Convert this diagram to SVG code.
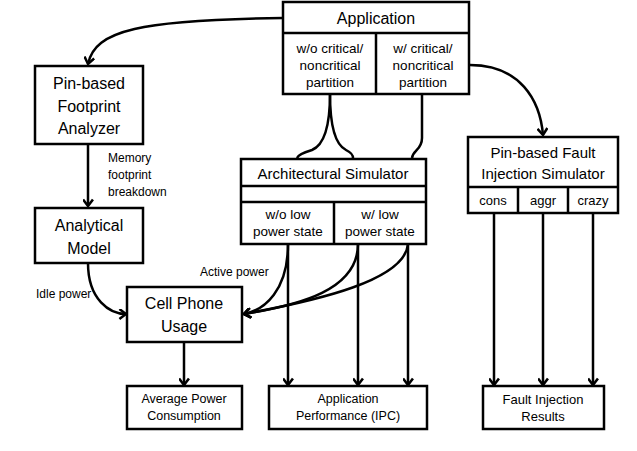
<svg xmlns="http://www.w3.org/2000/svg" width="637" height="451" viewBox="0 0 637 451">
<style>
.b{fill:#fff;stroke:#000;stroke-width:2.5}
.l{fill:none;stroke:#000;stroke-width:2.5}
text{font-family:"Liberation Sans",Arial,sans-serif;fill:#000;text-anchor:middle;dominant-baseline:central}
.t16{font-size:16px}
.t15{font-size:15px}
.t14{font-size:13.5px}
.t13{font-size:13px}
.t12{font-size:12.5px}
.lab{font-size:12px;text-anchor:start}
</style>
<defs>
<marker id="a" viewBox="0 0 10 10" refX="8" refY="5" markerWidth="11" markerHeight="11" markerUnits="userSpaceOnUse" orient="auto">
<path d="M2,0.5 L8,5 L2,9.5" fill="none" stroke="#000" stroke-width="2.3"/>
</marker>
</defs>
<rect width="637" height="451" fill="#fff"/>
<g id="connectors">
<path class="l" d="M283,18 C140,20 95,30 88,64" marker-end="url(#a)"/>
<path class="l" d="M88,144 L88,206" marker-end="url(#a)"/>
<path class="l" d="M330,94 C330,128 324,145 312,150 C302,153 298,155 297,158"/>
<path class="l" d="M330,94 C330,128 336,145 346,150 C352,153 353,155 353,158"/>
<path class="l" d="M422,94 L422,138 C422,150 413,150 412,158"/>
<path class="l" d="M470,65 C520,65 540,100 543,135" marker-end="url(#a)"/>
<path class="l" d="M287,187 L287,201" marker-end="url(#a)"/>
<path class="l" d="M358,187 L358,201" marker-end="url(#a)"/>
<path class="l" d="M409,187 L409,201" marker-end="url(#a)"/>
<path class="l" d="M88,263 C88,300 110,314 126,314" marker-end="url(#a)"/>
<path class="l" d="M288,244 C288,290 265,310 244,314" marker-end="url(#a)"/>
<path class="l" d="M358,244 C358,290 300,305 244,314" marker-end="url(#a)"/>
<path class="l" d="M408,244 C405,280 320,300 244,314" marker-end="url(#a)"/>
<path class="l" d="M184,342 L184,385" marker-end="url(#a)"/>
<path class="l" d="M288,244 L288,385" marker-end="url(#a)"/>
<path class="l" d="M358,244 L358,385" marker-end="url(#a)"/>
<path class="l" d="M408,244 L408,385" marker-end="url(#a)"/>
<path class="l" d="M494,213 L494,385" marker-end="url(#a)"/>
<path class="l" d="M543,213 L543,385" marker-end="url(#a)"/>
<path class="l" d="M593,213 L593,385" marker-end="url(#a)"/>
</g>
<g id="labels">
<text class="lab" x="108" y="158">Memory</text>
<text class="lab" x="108" y="175">footprint</text>
<text class="lab" x="108" y="192">breakdown</text>
<text class="lab" x="200" y="272">Active power</text>
<text class="lab" x="36" y="294">Idle power</text>
</g>
<g id="application">
<rect class="b" x="283" y="2" width="186" height="92"/>
<line class="l" x1="283" y1="33" x2="469" y2="33"/>
<line class="l" x1="376" y1="33" x2="376" y2="94"/>
<text class="t16" x="376" y="18">Application</text>
<text class="t14" x="330" y="48">w/o critical/</text>
<text class="t14" x="330" y="65">noncritical</text>
<text class="t14" x="330" y="82">partition</text>
<text class="t14" x="423" y="48">w/ critical/</text>
<text class="t14" x="423" y="65">noncritical</text>
<text class="t14" x="423" y="82">partition</text>
</g>
<g id="footprint">
<rect class="b" x="35" y="66" width="108" height="78"/>
<text class="t16" x="89" y="83">Pin-based</text>
<text class="t16" x="89" y="106">Footprint</text>
<text class="t16" x="89" y="128">Analyzer</text>
</g>
<g id="analytical">
<rect class="b" x="35" y="208" width="108" height="55"/>
<text class="t16" x="89" y="225">Analytical</text>
<text class="t16" x="89" y="248">Model</text>
</g>
<g id="archsim">
<rect class="b" x="241" y="159" width="185" height="85"/>
<line class="l" x1="241" y1="186" x2="426" y2="186"/>
<line class="l" x1="241" y1="202" x2="426" y2="202"/>
<line class="l" x1="334" y1="202" x2="334" y2="244"/>
<text class="t15" x="333" y="173">Architectural Simulator</text>
<text class="t14" x="288" y="214">w/o low</text>
<text class="t14" x="288" y="231">power state</text>
<text class="t14" x="380" y="214">w/ low</text>
<text class="t14" x="380" y="231">power state</text>
</g>
<g id="faultsim">
<rect class="b" x="468" y="137" width="150" height="76"/>
<line class="l" x1="468" y1="187" x2="618" y2="187"/>
<line class="l" x1="518" y1="187" x2="518" y2="213"/>
<line class="l" x1="568" y1="187" x2="568" y2="213"/>
<text class="t15" x="543" y="152">Pin-based Fault</text>
<text class="t15" x="543" y="173">Injection Simulator</text>
<text class="t13" x="493" y="200">cons</text>
<text class="t13" x="543" y="200">aggr</text>
<text class="t13" x="593" y="200">crazy</text>
</g>
<g id="cellphone">
<rect class="b" x="127" y="287" width="115" height="55"/>
<text class="t16" x="184" y="303">Cell Phone</text>
<text class="t16" x="184" y="326">Usage</text>
</g>
<g id="avgpower">
<rect class="b" x="127" y="386" width="115" height="43"/>
<text class="t12" x="184" y="399">Average Power</text>
<text class="t12" x="184" y="416">Consumption</text>
</g>
<g id="appperf">
<rect class="b" x="269" y="386" width="158" height="43"/>
<text class="t12" x="348" y="399">Application</text>
<text class="t12" x="348" y="416">Performance (IPC)</text>
</g>
<g id="faultresults">
<rect class="b" x="483" y="386" width="121" height="43"/>
<text class="t13" x="543" y="399">Fault Injection</text>
<text class="t13" x="543" y="416">Results</text>
</g>
</svg>
